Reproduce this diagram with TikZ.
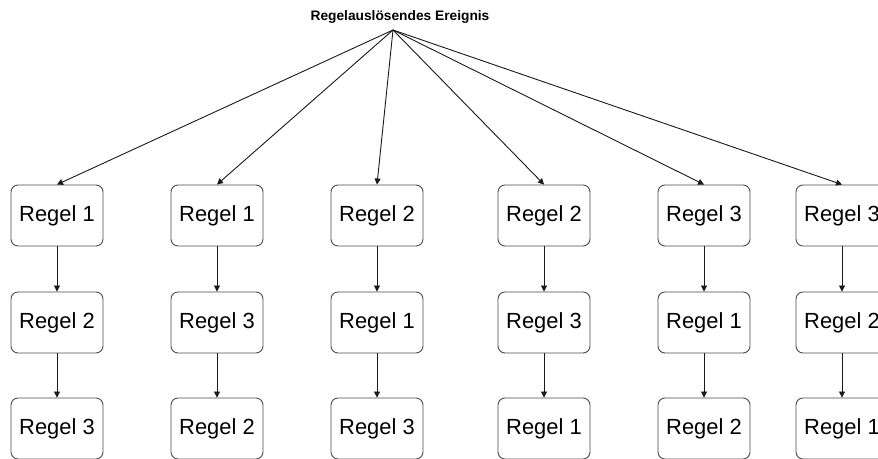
\documentclass[tikz,border=0pt]{standalone}
\usepackage{fontspec}
\setmainfont{Liberation Sans}
\usetikzlibrary{arrows.meta}
\begin{document}
\begin{tikzpicture}[x=1bp,y=-1bp,
  rulebox/.style={draw=black!70, line width=0.9bp, rounded corners=7bp,
    minimum width=92bp, minimum height=61bp, inner sep=0pt,
    font=\fontsize{22}{25}\selectfont},
  link/.style={draw=black!90, line width=0.9bp,
    -{Triangle[length=6bp,width=6bp]}}]
\useasboundingbox (0,0) rectangle (878,459);

% triggering event
\node[font=\bfseries\fontsize{13.8}{16}\selectfont] (event) at (400,17) {Regelauslösendes Ereignis};
\coordinate (fan) at (393,30);

% six rule sequences, one column each
\foreach \c/\x/\a/\b/\d in {1/57/1/2/3, 2/217/1/3/2, 3/377/2/1/3,
                             4/544/2/3/1, 5/704/3/1/2, 6/842/3/2/1} {
  \node[rulebox] (r\c a) at (\x,215.5) {Regel \a};
  \node[rulebox] (r\c b) at (\x,322.5) {Regel \b};
  \node[rulebox] (r\c c) at (\x,428.5) {Regel \d};
  \draw[link] (fan) -- (r\c a.north);
  \draw[link] (r\c a) -- (r\c b);
  \draw[link] (r\c b) -- (r\c c);
}
\end{tikzpicture}
\end{document}
